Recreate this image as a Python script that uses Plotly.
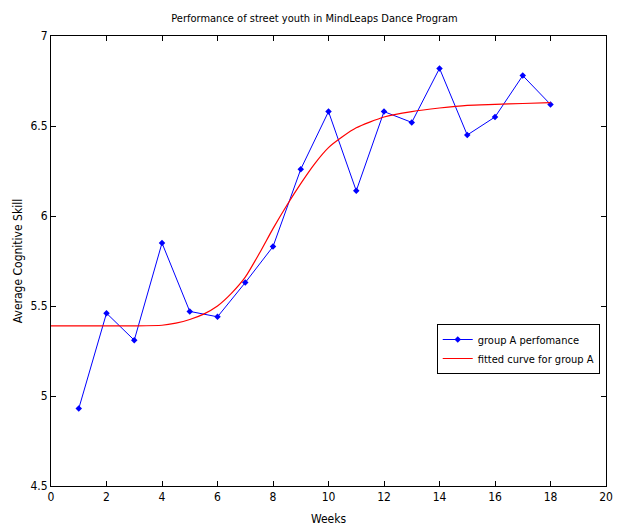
import plotly.graph_objects as go

weeks = list(range(1, 19))
group_a = [4.93, 5.46, 5.31, 5.85, 5.47, 5.44, 5.63, 5.83, 6.26, 6.58,
           6.14, 6.58, 6.52, 6.82, 6.45, 6.55, 6.78, 6.62]

fit_x = [0, 1, 2, 3, 4, 4.5, 5, 5.5, 6, 6.5, 7, 7.5, 8, 8.5, 9, 9.5, 10,
         10.5, 11, 12, 13, 14, 15, 16, 17, 18]
fit_y = [5.39, 5.39, 5.39, 5.39, 5.393, 5.405, 5.425, 5.455, 5.50, 5.57,
         5.66, 5.79, 5.93, 6.06, 6.18, 6.29, 6.38, 6.44, 6.49, 6.55, 6.58,
         6.60, 6.615, 6.62, 6.625, 6.63]

x_ticks = list(range(0, 21, 2))
y_ticks = [4.5, 5, 5.5, 6, 6.5, 7]
y_tick_labels = ["4.5", "5", "5.5", "6", "6.5", "7"]

font_family = "DejaVu Sans Condensed, Liberation Sans Narrow, Liberation Sans, Arial"

fig = go.Figure()
fig.add_trace(go.Scatter(
    x=weeks, y=group_a, mode="lines+markers", name="group A perfomance",
    line=dict(color="#0000ff", width=1),
    marker=dict(color="#0000ff", size=5, symbol="diamond"),
))
fig.add_trace(go.Scatter(
    x=fit_x, y=fit_y, mode="lines", name="fitted curve for group A",
    line=dict(color="#ff0000", width=1.2, shape="spline", smoothing=0.6),
))

axis_common = dict(
    showline=True, linecolor="black", linewidth=1, mirror="ticks",
    ticks="inside", ticklen=5, tickcolor="black", showgrid=False,
    zeroline=False, automargin=False,
    tickfont=dict(size=12, color="black", family=font_family),
)

fig.update_layout(
    width=613, height=521,
    margin=dict(l=43, r=15, t=28, b=43),
    paper_bgcolor="white", plot_bgcolor="white",
    font=dict(family=font_family, size=11, color="black"),
    title=dict(text="Performance of street youth in MindLeaps Dance Program",
               x=0.5, xanchor="center", y=0.988, yanchor="top",
               font=dict(size=11, color="black", family=font_family)),
    xaxis=dict(range=[0, 20], tickvals=x_ticks, **axis_common,
               title=dict(text="Weeks", standoff=11,
                          font=dict(size=12, family=font_family))),
    yaxis=dict(range=[4.5, 7], tickvals=y_ticks, ticktext=y_tick_labels,
               **axis_common,
               title=dict(text="Average Cognitive Skill", standoff=5,
                          font=dict(size=12, family=font_family))),
    legend=dict(x=0.695, y=0.36, xanchor="left", yanchor="top",
                bordercolor="black", borderwidth=1, bgcolor="white",
                font=dict(size=11, family=font_family), itemwidth=30,
                tracegroupgap=0),
    showlegend=True,
)

fig.write_html("out.html")
